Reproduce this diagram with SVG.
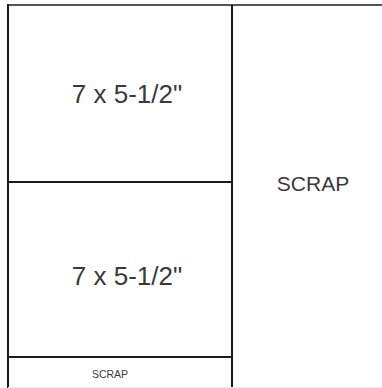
<svg xmlns="http://www.w3.org/2000/svg" width="382" height="388" viewBox="0 0 382 388">
<style>
.ln{stroke:#1a1a1a;stroke-width:2;fill:none}
.t{font-family:"Liberation Sans",Arial,sans-serif;fill:#3a3a3a;text-anchor:middle;font-weight:normal}
</style>
<rect width="382" height="388" fill="#fff"/>
<g id="connectors">
<line x1="7" y1="5" x2="382" y2="5" stroke="#555" stroke-width="2"/>
<line class="ln" x1="8" y1="4" x2="8" y2="388"/>
<line class="ln" x1="232" y1="5" x2="232" y2="388"/>
<line class="ln" x1="8" y1="182" x2="232" y2="182"/>
<line class="ln" x1="8" y1="357" x2="232" y2="357"/>
<line x1="8" y1="387.5" x2="382" y2="387.5" stroke="#eee" stroke-width="1"/>
</g>
<g id="panel1"><text class="t" x="127" y="103" font-size="26">7 x 5-1/2"</text></g>
<g id="panel2"><text class="t" x="127" y="285" font-size="26">7 x 5-1/2"</text></g>
<g id="scrap-right"><text class="t" x="313" y="191" font-size="21">SCRAP</text></g>
<g id="scrap-bottom"><text class="t" x="110" y="378" font-size="10.5">SCRAP</text></g>
</svg>
